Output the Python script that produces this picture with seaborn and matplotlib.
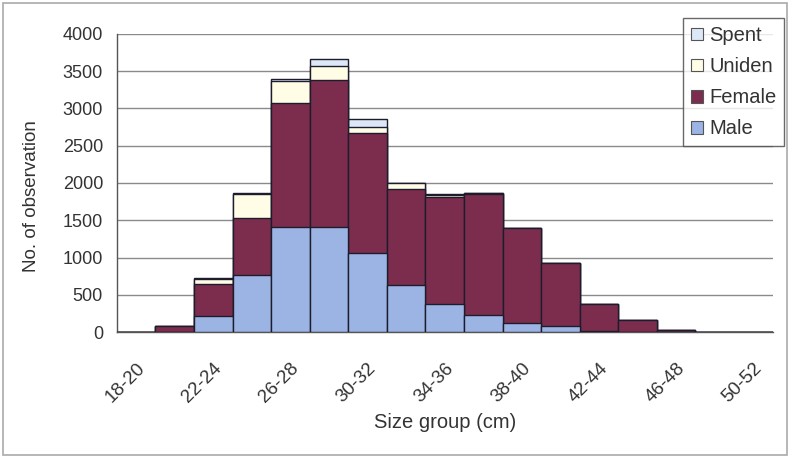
import numpy as np
import pandas as pd
import matplotlib
matplotlib.use("Agg")
import matplotlib.pyplot as plt
import seaborn as sns
from matplotlib.patches import Patch, Rectangle

categories = ["18-20", "20-22", "22-24", "24-26", "26-28", "28-30", "30-32", "32-34",
              "34-36", "36-38", "38-40", "40-42", "42-44", "44-46", "46-48", "48-50", "50-52"]
male   = [0, 0, 210, 760, 1410, 1410, 1055, 630, 370, 225, 120, 75, 10, 0, 0, 0, 0]
female = [0, 80, 430, 765, 1660, 1965, 1620, 1285, 1445, 1625, 1270, 845, 360, 160, 25, 0, 0]
uniden = [0, 0, 65, 325, 300, 190, 80, 80, 30, 15, 0, 0, 0, 0, 0, 0, 0]
spent  = [0, 0, 25, 10, 30, 100, 100, 10, 5, 5, 0, 0, 0, 0, 0, 0, 0]
tick_labels = categories[::2]

sns.set_theme(style="white")
plt.rcParams["font.family"] = ["Liberation Sans", "DejaVu Sans"]

fig = plt.figure(figsize=(7.9, 4.58), dpi=100)
ax = fig.add_axes([0.148, 0.275, 0.83, 0.651])

df = pd.DataFrame({"cat": categories, "male": male, "female": female,
                   "uniden": uniden, "spent": spent})
df["c_female"] = df["male"] + df["female"]
df["c_uniden"] = df["c_female"] + df["uniden"]
df["c_spent"] = df["c_uniden"] + df["spent"]

colors = {"Spent": "#dce8f8", "Uniden": "#fffde6", "Female": "#7c2d4e", "Male": "#9bb4e4"}
edge = "#1c1c2c"
for col, name in [("c_spent", "Spent"), ("c_uniden", "Uniden"), ("c_female", "Female"), ("male", "Male")]:
    sns.barplot(data=df, x="cat", y=col, color=colors[name], width=1.0,
                edgecolor=edge, linewidth=1.0, saturation=1, ax=ax, zorder=3)

ax.set_xlim(-0.5, len(categories) - 0.5)
ax.set_ylim(0, 4000)
ax.set_yticks(np.arange(0, 4001, 500))
ax.yaxis.grid(True, color="#8a8a8a", linewidth=1.0, zorder=0)
ax.set_axisbelow(True)

ax.set_xticks(range(0, len(categories), 2))
ax.set_xticklabels(tick_labels, rotation=45, ha="right", rotation_mode="anchor")
ax.set_xticks(np.arange(-0.5, len(categories) + 0.5, 1), minor=True)
ax.tick_params(axis="x", which="major", length=0, pad=20, labelsize=13.5, labelcolor="#333333")
ax.tick_params(axis="x", which="minor", length=6, width=1, color="#555555", direction="out")
ax.tick_params(axis="y", length=5, width=1, color="#555555", direction="out", labelsize=13,
               labelcolor="#333333", pad=5)

for s in ["top", "right"]:
    ax.spines[s].set_visible(False)
for s in ["left", "bottom"]:
    ax.spines[s].set_color("#555555")
    ax.spines[s].set_linewidth(1.0)

ax.set_xlabel("Size group (cm)", fontsize=14.5, color="#333333")
ax.set_ylabel("No. of observation", fontsize=13.5, color="#333333")
ax.xaxis.set_label_coords(0.5, -(413 - 332) / 298)
ax.yaxis.set_label_coords(-(117 - 40) / 656, (332 - 196) / 298)

handles = [Patch(facecolor=colors[n], edgecolor="#555555", linewidth=0.8, label=n)
           for n in ["Spent", "Uniden", "Female", "Male"]]
leg = fig.legend(handles=handles, loc="upper left", bbox_to_anchor=(683 / 790, 1 - 18 / 458),
                 frameon=True, fancybox=False, fontsize=14.5, handlelength=0.6, handleheight=0.6,
                 handletextpad=0.3, borderpad=0.4, labelspacing=0.6, borderaxespad=0)
leg.get_frame().set_edgecolor("#444444")
leg.get_frame().set_linewidth(1.0)
for t in leg.get_texts():
    t.set_color("#333333")

fig.patches.append(Rectangle((0.004, 0.006), 0.992, 0.988, transform=fig.transFigure,
                             fill=False, edgecolor="#aaaaaa", linewidth=1.2))

fig.savefig("out.png", dpi=100)
